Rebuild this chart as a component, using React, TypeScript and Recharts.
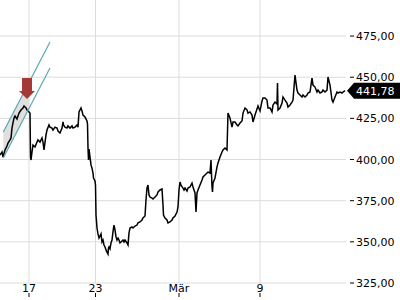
import React from 'react';
import { ComposedChart, Line, Area, XAxis, YAxis, ReferenceLine, ReferenceDot } from 'recharts';

// time index (session steps) and close prices
const times = [0,2,3,5,7,8,10,11,12,13,14,15,17,18,19,21,23,24,26,27,29,30,30.5,31,32,33,35,37,38,40,42,43,44,46,47,49,50,52,53,55,57,58,60,62,63,63.5,65,67,68,70,72,73,75,77,78,79,81,82,83,85,87,87.5,88,88.5,89,90,91,92,93,93.5,95,95.5,96,97,98,99,101,102,103,104,105,106,107,108,108.5,109,110,111,112,113,113.5,114,115,116,117,118,119,120,122,123,124,125,127,128,129,130,132,133,135,137,138,140,142,143,145,146,147,148,148.5,149,150,152,153,155,157,158,160,162,163,163.5,165,167,168,170,172,173,175,177,178,179,180,181,183,184,185,187,188,190,192,193,195,196,197,198,200,202,203,205,207,208,210,211,212,212.5,213,215,217,218,220,222,223,225,227,228,230,232,233,235,237,238,240,242,243,245,247,248,250,252,253,255,257,258,260,262,263,265,267,268,270,272,273,275,277,277.5,278,280,282,283,285,287,288,290,292,293,295,297,298,300,302,303,305,307,308,310,312,313,315,317,318,320,322,323,325,327,328,330,332,333,335,337,338,340,342,343,345];
const prices = [402.7,404.6,401.5,405.8,408.2,410.0,411.9,413.1,419.1,422.2,425.2,426.4,424.6,426.4,428.2,430.1,431.3,432.5,431.3,430.1,428.9,428.2,401.5,399.7,404.6,408.8,407.6,410.6,411.9,410.6,413.1,410.6,405.8,414.9,417.9,421.0,419.7,419.1,417.9,419.7,419.1,417.3,416.1,419.1,422.8,421.0,419.7,419.1,420.4,419.1,420.4,419.1,419.7,421.0,419.7,428.9,431.3,429.5,427.0,425.8,423.4,421.6,407.0,399.7,406.4,401.5,396.7,394.8,391.8,388.8,387.0,384.5,366.3,358.4,354.8,352.3,354.8,349.9,351.1,348.1,346.9,345.1,343.8,342.6,346.3,346.9,345.7,349.3,351.1,356.0,358.4,360.2,357.2,353.0,351.1,352.3,351.1,349.3,350.5,351.1,349.9,351.1,349.3,348.1,355.4,358.4,359.0,358.4,359.6,360.2,361.5,362.1,363.3,364.5,365.7,375.4,382.7,384.5,381.5,378.5,377.2,376.6,376.0,377.2,378.5,380.3,381.5,382.1,372.4,366.3,364.5,363.3,361.5,362.1,363.3,364.5,365.7,368.1,371.2,381.5,386.3,384.5,382.7,381.5,382.7,380.9,382.7,383.3,385.7,383.3,379.7,368.1,379.7,381.5,384.5,387.6,389.4,390.6,391.8,392.4,391.8,399.7,383.3,380.3,385.7,388.8,395.5,397.9,401.5,404.6,405.8,407.0,405.8,428.2,425.2,419.7,422.8,422.8,421.0,420.4,422.2,423.4,428.2,431.3,430.1,428.2,428.9,427.0,422.8,427.0,430.7,432.5,429.5,435.5,437.4,437.4,436.1,431.3,431.3,428.9,433.1,434.9,433.7,446.5,430.1,431.3,434.3,438.0,436.1,434.3,431.9,433.1,434.9,436.1,451.3,442.2,440.4,439.2,438.0,439.2,438.0,439.2,440.4,441.0,449.5,445.2,444.0,441.0,442.2,440.4,441.0,442.2,441.0,442.2,450.1,445.2,436.1,434.9,438.0,441.0,440.4,441.0,440.4,441.0,441.78];

const yTicks = [325, 350, 375, 400, 425, 450, 475];
const xTickPositions = [29, 95.5, 179, 260];
const xTickLabels = ['17', '23', 'Mär', '9'];
const xDomain = [0, 346];
const yDomain = [325, 496.9];

// trend channel annotation (time, price)
const channelTimes = [3.3, 50];
const channelUpper = [416.7, 471.4];
const channelLower = [400.9, 455.6];
const bandTimes = [3.3, 29.3];
const bandUpper = [416.7, 447.0];
const bandLower = [400.9, 431.2];
const arrowTime = 27;
const arrowPrice = 436.7;

const data = times.map((t, i) => ({ t, p: prices[i] }));
const bandData = bandTimes.map((t, i) => ({ t, band: [bandLower[i], bandUpper[i]] }));
const lastT = times[times.length - 1];
const lastP = prices[prices.length - 1];

const FONT = 'DejaVu Sans';
const GRID = '#dcdcdc';
const fmt = (v: number) => v.toFixed(2).replace('.', ',');

const YTick = (props: any) => {
  const { x, y, payload } = props;
  return (
    <g>
      <line x1={x + 4} x2={x + 8} y1={y} y2={y} stroke="#000" strokeWidth={1} />
      <text x={x + 10} y={y} dy={4} fontSize={11} fontFamily={FONT} fill="#000">{fmt(payload.value)}</text>
    </g>
  );
};

const XTick = (props: any) => {
  const { x, y, index } = props;
  return (
    <g>
      <text x={x} y={y} dy={9} textAnchor="middle" fontSize={11} fontFamily={FONT} fill="#000">{xTickLabels[index]}</text>
      <line x1={x} x2={x} y1={y + 10} y2={y + 14} stroke="#000" strokeWidth={1} />
    </g>
  );
};

const ArrowShape = (props: any) => {
  const { cx, cy } = props;
  const d = `M${cx},${cy} L${cx - 8},${cy - 8} L${cx - 5},${cy - 8} L${cx - 5},${cy - 21} L${cx + 5},${cy - 21} L${cx + 5},${cy - 8} L${cx + 8},${cy - 8} Z`;
  return <path d={d} fill="#a33a36" />;
};

const TagShape = (props: any) => {
  const { cx, cy } = props;
  const d = `M${cx + 2},${cy} L${cx + 9},${cy - 8} L${cx + 60},${cy - 8} L${cx + 60},${cy + 8} L${cx + 9},${cy + 8} Z`;
  return (
    <g>
      <path d={d} fill="#000" />
      <text x={cx + 11} y={cy} dy={4} fontSize={11} fontFamily={FONT} fill="#fff">{fmt(lastP)}</text>
    </g>
  );
};

export default function App() {
  return (
    <div style={{ position: 'absolute', left: 0, top: 0 }}>
      <ComposedChart width={400} height={300} data={data} margin={{ top: 0, right: 0, bottom: 0, left: 0 }}>
        <XAxis
          dataKey="t"
          type="number"
          domain={xDomain}
          allowDataOverflow
          ticks={xTickPositions}
          interval={0}
          height={17}
          axisLine={false}
          tickLine={false}
          tickSize={0}
          tickMargin={0}
          tick={<XTick />}
        />
        <YAxis
          orientation="right"
          type="number"
          domain={yDomain}
          allowDataOverflow
          ticks={yTicks}
          interval={0}
          width={54}
          axisLine={false}
          tickLine={false}
          tickSize={0}
          tickMargin={0}
          tick={<YTick />}
        />
        {yTicks.map((v) => (
          <ReferenceLine key={'h' + v} y={v} stroke={GRID} strokeWidth={1} />
        ))}
        {xTickPositions.map((t) => (
          <ReferenceLine key={'v' + t} x={t} stroke={GRID} strokeWidth={1} />
        ))}
        <Area
          data={bandData}
          dataKey="band"
          type="linear"
          stroke="none"
          fill="#d4d4d4"
          fillOpacity={0.75}
          isAnimationActive={false}
          dot={false}
          activeDot={false}
        />
        <Line
          dataKey="p"
          type="linear"
          stroke="#000"
          strokeWidth={1.5}
          dot={false}
          activeDot={false}
          isAnimationActive={false}
        />
        <ReferenceDot x={arrowTime} y={arrowPrice} shape={<ArrowShape />} />
        <ReferenceLine
          segment={[{ x: channelTimes[0], y: channelUpper[0] }, { x: channelTimes[1], y: channelUpper[1] }]}
          stroke="#5aa9ae"
          strokeWidth={1.2}
        />
        <ReferenceLine
          segment={[{ x: channelTimes[0], y: channelLower[0] }, { x: channelTimes[1], y: channelLower[1] }]}
          stroke="#5aa9ae"
          strokeWidth={1.2}
        />
        <ReferenceDot x={lastT} y={lastP} shape={<TagShape />} ifOverflow="visible" />
      </ComposedChart>
    </div>
  );
}
